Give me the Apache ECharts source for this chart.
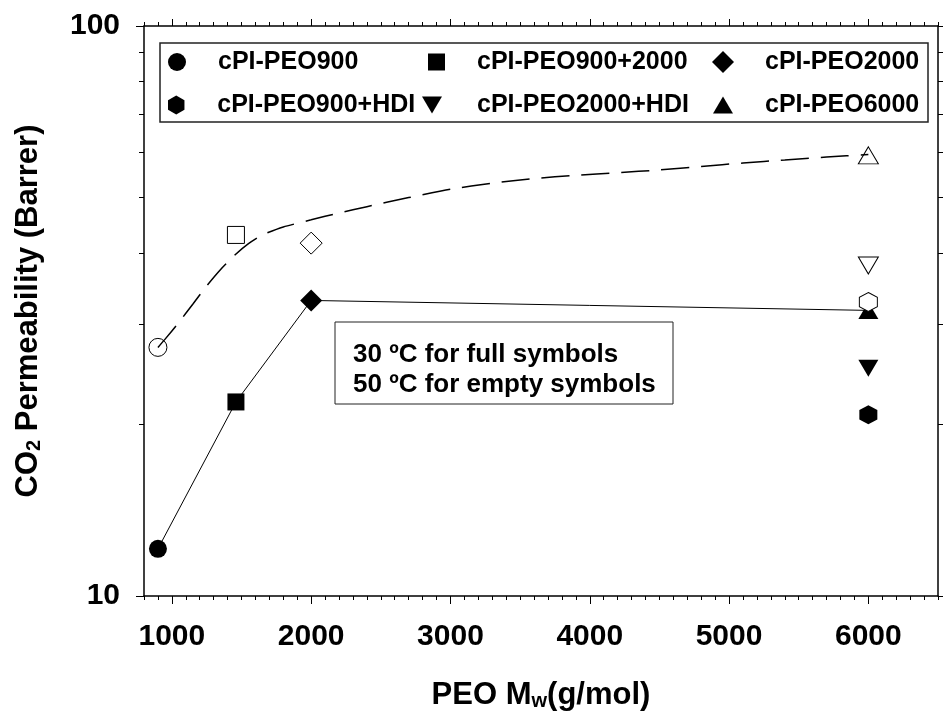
<!DOCTYPE html>
<html><head><meta charset="utf-8">
<script src="https://cdn.jsdelivr.net/npm/echarts@6/dist/echarts.min.js"></script>
<style>html,body{margin:0;padding:0;background:#fff}#c{width:943px;height:716px}</style>
</head><body><div id="c"></div><script>
const FONT = '"Liberation Sans", Arial, sans-serif';

// ---- tick values ----
const xMajorTicks = [1000, 2000, 3000, 4000, 5000, 6000];
const yMajorTicks = [10, 100];
const yMinorTicks = [20, 30, 40, 50, 60, 70, 80, 90];

// ---- series (membranes) ----
const seriesNames = ['cPI-PEO900', 'cPI-PEO900+2000', 'cPI-PEO2000', 'cPI-PEO900+HDI', 'cPI-PEO2000+HDI', 'cPI-PEO6000'];
const peoMw  = [900, 1460, 2000, 6000, 6000, 6000];
const perm30 = [12.1, 21.9, 33.0, 20.8, 25.1, 31.7];   // 30 ºC, full symbols
const perm50 = [27.3, 43.0, 41.6, 32.8, 38.0, 59.3];   // 50 ºC, empty symbols

// ---- solid guide line (30 ºC) ----
const line30X = [900, 1460, 2000, 6000];
const line30Y = [12.1, 21.9, 33.0, 31.7];

// ---- dashed fitted curve (50 ºC) ----
const fit50X = [900, 950, 1050, 1150, 1250, 1350, 1450, 1550, 1650, 1800, 2000, 2200, 2400, 2700, 3000, 3300, 3600, 3900, 4200, 4500, 4800, 5100, 5400, 5700, 6000];
const fit50Y = [27.3, 28.2, 30.2, 32.5, 35.0, 37.4, 39.6, 41.5, 43.0, 44.4, 45.7, 47.0, 48.2, 50.0, 51.7, 53.0, 54.0, 54.7, 55.3, 55.9, 56.7, 57.5, 58.2, 58.9, 59.5];

const HEX = 'path://M0,-10L8.66,-5L8.66,5L0,10L-8.66,5L-8.66,-5Z';
const TRI_DOWN = 'path://M0,0L20,0L10,17Z';
const symbols = ['circle', 'rect', 'diamond', HEX, 'triangle', 'triangle'];
const symRot = [0, 0, 0, 0, 180, 0];
const symSizes = [18, 17, 22, [18, 19], [20, 17], [20, 17]];

const series = [];
series.push({
  type: 'line', name: 'line30', data: line30X.map((x, i) => [x, line30Y[i]]),
  showSymbol: false, symbol: 'none', lineStyle: { color: '#000', width: 1 }, z: 1, silent: true
});
seriesNames.forEach((n, i) => {
  series.push({
    type: 'scatter', name: n, data: [[peoMw[i], perm30[i]]],
    symbol: symbols[i], symbolRotate: symRot[i], symbolSize: symSizes[i],
    itemStyle: { color: '#000', opacity: 1 }, z: 2
  });
});
seriesNames.forEach((n, i) => {
  series.push({
    type: 'scatter', name: n + ' (50 ºC)', data: [[peoMw[i], perm50[i]]],
    symbol: symbols[i], symbolRotate: symRot[i], symbolSize: symSizes[i],
    itemStyle: { color: '#fff', borderColor: '#000', borderWidth: 1, opacity: 1 }, z: 3
  });
});
series.push({
  type: 'line', name: 'fit50', data: fit50X.map((x, i) => [x, fit50Y[i]]),
  showSymbol: false, symbol: 'none', smooth: 0.2,
  lineStyle: { color: '#000', width: 1.5, type: [28, 12] }, z: 4, silent: true
});

const legendLayout = [
  { left: 168, top: 49, icon: 'circle', w: 18, h: 18, sp: 27 },
  { left: 428, top: 49, icon: 'rect', w: 17, h: 17, sp: 27 },
  { left: 712, top: 49, icon: 'diamond', w: 22, h: 22, sp: 26 },
  { left: 168, top: 92, icon: HEX, w: 18, h: 19, sp: 27 },
  { left: 422, top: 92, icon: TRI_DOWN, w: 20, h: 17, sp: 30 },
  { left: 713, top: 92, icon: 'triangle', w: 20, h: 17, sp: 27 }
];
const legends = legendLayout.map((L, i) => ({
  data: [seriesNames[i]], left: L.left, top: L.top, padding: 0,
  icon: L.icon, itemWidth: L.w, itemHeight: L.h, selectedMode: false,
  itemStyle: { color: '#000', opacity: 1 },
  formatter: name => '{sp|}' + name,
  textStyle: { fontFamily: FONT, fontWeight: 'bold', fontSize: 25, color: '#000', lineHeight: 26,
    rich: { sp: { width: L.sp } } }
}));

const axLine = { show: true, lineStyle: { color: '#000', width: 1.5 } };
const tickStyle = { color: '#000', width: 1 };
const labelFont = { fontFamily: FONT, fontWeight: 'bold', fontSize: 30, color: '#000' };
const plainNum = v => String(v);
const titleRich = {
  b: { fontFamily: FONT, fontWeight: 'bold', fontSize: 31, color: '#000', lineHeight: 36, verticalAlign: 'bottom' },
  s: { fontFamily: FONT, fontWeight: 'bold', fontSize: 20, color: '#000', lineHeight: 8, verticalAlign: 'bottom' }
};

const option = {
  animation: false,
  backgroundColor: '#fff',
  grid: { left: 144, right: 5, top: 26, bottom: 117, containLabel: false },
  legend: legends,
  xAxis: [
    { type: 'value', position: 'bottom', min: 800, max: 6500,
      axisLine: axLine,
      axisTick: { show: true, customValues: xMajorTicks, length: 8, inside: false, lineStyle: tickStyle },
      axisLabel: Object.assign({ customValues: xMajorTicks, margin: 26, lineHeight: 30, formatter: plainNum }, labelFont),
      splitLine: { show: false },
      name: '{b|PEO M}{s|w}{b|(g/mol)}', nameLocation: 'middle', nameGap: 79,
      nameTextStyle: { rich: titleRich }
    },
    { type: 'value', position: 'bottom', min: 800, max: 6500, interval: 100,
      axisLine: { show: false }, axisTick: { show: true, length: 4, lineStyle: tickStyle },
      axisLabel: { show: false }, splitLine: { show: false } },
    { type: 'value', position: 'top', min: 800, max: 6500,
      axisLine: axLine,
      axisTick: { show: true, customValues: xMajorTicks, length: 7, lineStyle: tickStyle },
      axisLabel: { show: false }, splitLine: { show: false } },
    { type: 'value', position: 'top', min: 800, max: 6500, interval: 100,
      axisLine: { show: false }, axisTick: { show: true, length: 4, lineStyle: tickStyle },
      axisLabel: { show: false }, splitLine: { show: false } }
  ],
  yAxis: [
    { type: 'log', logBase: 10, position: 'left', min: 10, max: 100,
      axisLine: axLine,
      axisTick: { show: true, customValues: yMajorTicks, length: 8, lineStyle: tickStyle },
      axisLabel: Object.assign({ customValues: yMajorTicks, margin: 24, formatter: plainNum }, labelFont),
      splitLine: { show: false },
      name: '{b|CO}{s|2}{b| Permeability (Barrer)}', nameLocation: 'middle', nameGap: 100, nameRotate: 90,
      nameTextStyle: { rich: titleRich }
    },
    { type: 'log', logBase: 10, position: 'left', min: 10, max: 100,
      axisLine: { show: false },
      axisTick: { show: true, customValues: yMinorTicks, length: 5, lineStyle: tickStyle },
      axisLabel: { show: false }, splitLine: { show: false } },
    { type: 'log', logBase: 10, position: 'right', min: 10, max: 100,
      axisLine: axLine,
      axisTick: { show: true, customValues: yMajorTicks, length: 8, lineStyle: tickStyle },
      axisLabel: { show: false }, splitLine: { show: false } },
    { type: 'log', logBase: 10, position: 'right', min: 10, max: 100,
      axisLine: { show: false },
      axisTick: { show: true, customValues: yMinorTicks, length: 5, lineStyle: tickStyle },
      axisLabel: { show: false }, splitLine: { show: false } }
  ],
  graphic: [
    { type: 'rect', z: 0, shape: { x: 160, y: 43, width: 768, height: 79 },
      style: { fill: '#fff', stroke: '#222', lineWidth: 1.5 } },
    { type: 'rect', z: 0, shape: { x: 335, y: 322, width: 338, height: 82 },
      style: { fill: '#fff', stroke: '#222', lineWidth: 1 } },
    { type: 'text', z: 1, left: 353, top: 342,
      style: { text: '30 ºC for full symbols', font: 'bold 26px ' + FONT, fill: '#000' } },
    { type: 'text', z: 1, left: 353, top: 372,
      style: { text: '50 ºC for empty symbols', font: 'bold 26px ' + FONT, fill: '#000' } }
  ],
  series: series
};

const chart = echarts.init(document.getElementById('c'), null, { renderer: 'canvas' });
chart.setOption(option);
</script></body></html>
